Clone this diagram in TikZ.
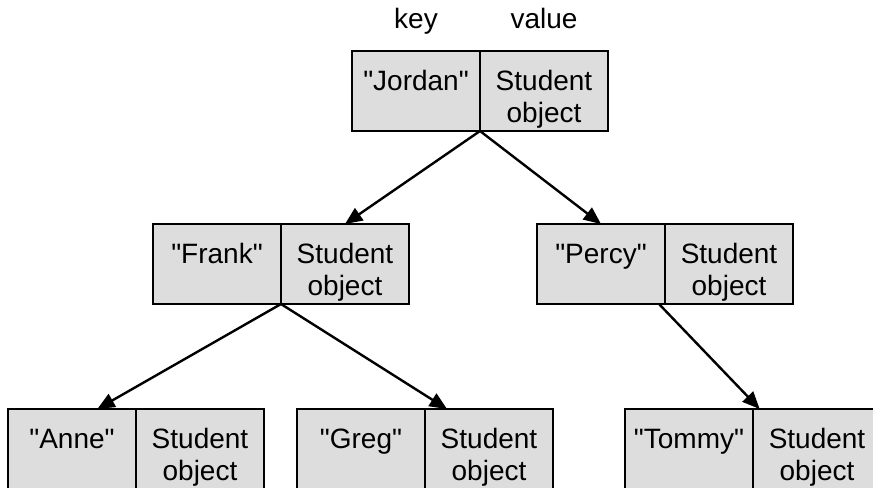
\documentclass[tikz,border=0pt]{standalone}
\usepackage{fontspec}
% no tex-text mapping, so " stays a straight quote
\setmainfont{Liberation Sans}[Ligatures=TeXOff]
\usetikzlibrary{arrows.meta}
\definecolor{cellfill}{RGB}{221,221,221}

% One map entry: a key cell and a value cell side by side.
% #1 name prefix, (#2,#3) top-left corner, #4 key string
\newcommand{\mapentry}[4]{%
  \node[cell, anchor=north west] (#1k) at (#2,#3) {};
  \node[cell, anchor=north west] (#1v) at (#1k.north east) {};
  \node[txt] (#1kt) at ([yshift=-29.25pt]#1k.north) {"#4"};
  \node[txt] (#1va) at ([yshift=-29.25pt]#1v.north) {Student};
  \node[txt] (#1vb) at ([yshift=-53.25pt]#1v.north) {object};
}

\tikzset{
  cell/.style={draw, line width=1.8pt, fill=cellfill, minimum width=96pt,
    minimum height=60pt, inner sep=0pt, outer sep=0pt},
  txt/.style={anchor=base, inner sep=0pt, font=\fontsize{21}{24}\selectfont},
  conn/.style={line width=1.8pt, -{Triangle[length=13pt,width=11pt]}},
}

\begin{document}
\begin{tikzpicture}[x=0.75pt, y=-0.75pt]
  \useasboundingbox (0,0) rectangle (873,487);
  \clip (0,0) rectangle (873,487);

  % column headings
  \node[txt] (keylbl) at (416,28) {key};
  \node[txt] (vallbl) at (544,28) {value};

  % entries
  \mapentry{jordan}{352}{51}{Jordan}
  \mapentry{frank}{153}{224}{Frank}
  \mapentry{percy}{537}{224}{Percy}
  \mapentry{anne}{8}{409}{Anne}
  \mapentry{greg}{297}{409}{Greg}
  \mapentry{tommy}{625}{409}{Tommy}

  % tree links
  \draw[conn] (jordank.south east) -- (frankv.north);
  \draw[conn] (jordank.south east) -- (percyk.north);
  \draw[conn] (frankk.south east) -- ([xshift=19pt]annek.north);
  \draw[conn] (frankk.south east) -- ([xshift=16.5pt]gregv.north west);
  \draw[conn] ([xshift=-4.5pt]percyk.south east) -- ([xshift=5pt]tommyv.north west);
\end{tikzpicture}
\end{document}
